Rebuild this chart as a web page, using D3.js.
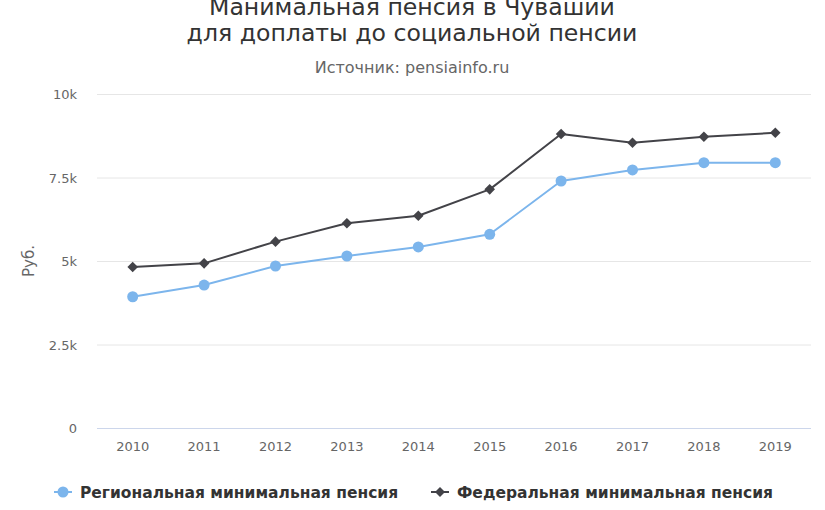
<!DOCTYPE html>
<html><head><meta charset="utf-8">
<script src="https://cdn.jsdelivr.net/npm/d3@7"></script>
<style>body{margin:0;background:#fff}svg{display:block}</style>
</head><body>
<svg id="c" width="825" height="510"></svg>
<script>
const categories = ["2010","2011","2012","2013","2014","2015","2016","2017","2018","2019"];
const regional = [3930, 4280, 4850, 5150, 5420, 5800, 7395, 7725, 7945, 7945];
const federal = [4820, 4930, 5580, 6130, 6355, 7145, 8800, 8540, 8720, 8840];
const yTicks = [0, 2500, 5000, 7500, 10000];
const yTickLabels = ["0", "2.5k", "5k", "7.5k", "10k"];
const titleLines = ["Манимальная пенсия в Чувашии", "для доплаты до социальной пенсии"];
const subtitle = "Источник: pensiainfo.ru";
const yTitle = "Руб.";
const seriesNames = ["Региональная минимальная пенсия", "Федеральная минимальная пенсия"];
const colors = ["#7cb5ec", "#434348"];

const svg = d3.select("#c");
const font = "DejaVu Sans, Verdana, sans-serif";
const L = 97, R = 811, T = 94, B = 428;
const x = d3.scaleBand().domain(categories).range([L, R]);
const y = d3.scaleLinear().domain([0, 10000]).range([B, T]);

// titles
svg.selectAll("text.title").data(titleLines).enter().append("text")
  .attr("x", 412).attr("y", (d,i) => 15 + i*26).attr("text-anchor","middle")
  .attr("font-family", font).attr("font-size", 23.6).attr("fill", "#333").text(d => d);
svg.append("text").attr("x", 412).attr("y", 73).attr("text-anchor","middle")
  .attr("font-family", font).attr("font-size", 16).attr("fill", "#666").text(subtitle);

// grid
svg.append("g").selectAll("line").data(yTicks).enter().append("line")
  .attr("x1", L).attr("x2", R).attr("y1", d => y(d)+0.5).attr("y2", d => y(d)+0.5)
  .attr("stroke", d => d === 0 ? "#ccd6eb" : "#e6e6e6").attr("stroke-width", 1);

// y axis labels
const ya = svg.append("g").attr("transform", `translate(${L-20},0)`)
  .call(d3.axisLeft(y).tickValues(yTicks).tickFormat((d,i) => yTickLabels[i]).tickSize(0).tickPadding(0));
ya.select(".domain").remove();
ya.selectAll("text").attr("font-family", font).attr("font-size", 13).attr("fill", "#666").attr("dy", "0.35em");

svg.append("text").attr("transform", `translate(34,${(T+B)/2}) rotate(-90)`).attr("text-anchor","middle")
  .attr("font-family", font).attr("font-size", 15).attr("fill", "#666").text(yTitle);

// x axis labels
const xa = svg.append("g").attr("transform", `translate(0,${B})`)
  .call(d3.axisBottom(x).tickSize(0).tickPadding(14));
xa.select(".domain").remove();
xa.selectAll("text").attr("font-family", font).attr("font-size", 13).attr("fill", "#666");

const cx = d => x(d) + x.bandwidth()/2;
const line = d3.line().x((d,i) => cx(categories[i])).y(d => y(d));

[regional, federal].forEach((vals, si) => {
  svg.append("path").datum(vals).attr("d", line).attr("fill","none")
    .attr("stroke", colors[si]).attr("stroke-width", 2).attr("stroke-linejoin","round");
  const g = svg.append("g");
  if (si === 0) {
    g.selectAll("circle").data(vals).enter().append("circle")
      .attr("cx", (d,i) => cx(categories[i])).attr("cy", d => y(d)).attr("r", 5.5).attr("fill", colors[si]);
  } else {
    g.selectAll("path").data(vals).enter().append("path")
      .attr("transform", (d,i) => `translate(${cx(categories[i])},${y(d)}) rotate(45)`)
      .attr("d", d3.symbol().type(d3.symbolSquare).size(56)).attr("fill", colors[si]);
  }
});

// legend
const legX = [54, 431];
seriesNames.forEach((name, si) => {
  const g = svg.append("g").attr("transform", `translate(${legX[si]},492)`);
  g.append("line").attr("x1", 0).attr("x2", 18).attr("y1", 0).attr("y2", 0).attr("stroke", colors[si]).attr("stroke-width", 2);
  if (si === 0) g.append("circle").attr("cx", 9).attr("cy", 0).attr("r", 5.5).attr("fill", colors[si]);
  else g.append("path").attr("transform", "translate(9,0) rotate(45)").attr("d", d3.symbol().type(d3.symbolSquare).size(50)).attr("fill", colors[si]);
  g.append("text").attr("x", 26).attr("y", 5.5).attr("font-family", font).attr("font-size", 15.5)
    .attr("font-weight", "bold").attr("fill", "#333").text(name);
});
</script>
</body></html>
